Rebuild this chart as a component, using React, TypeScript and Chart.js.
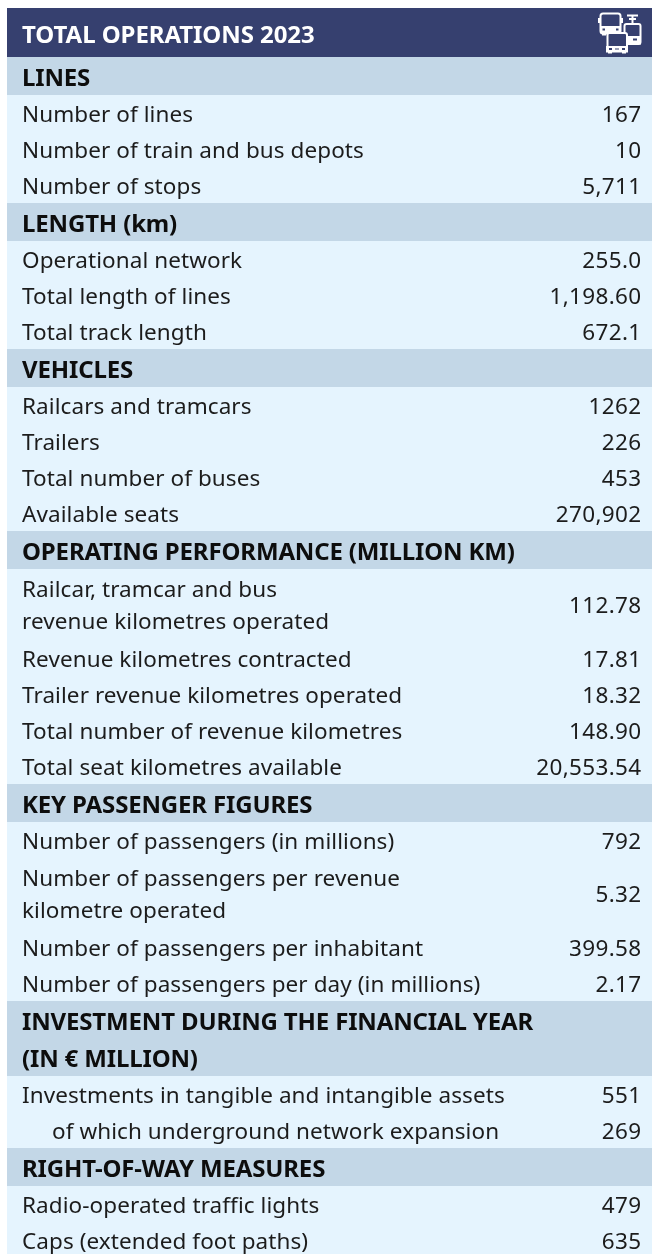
import React, { useEffect, useRef } from "react";
import { Chart, registerables } from "chart.js";

Chart.register(...registerables);

const title = "TOTAL OPERATIONS 2023";

const sectionTitles = [
  "LINES",
  "LENGTH (km)",
  "VEHICLES",
  "OPERATING PERFORMANCE (MILLION KM)",
  "KEY PASSENGER FIGURES",
  "INVESTMENT DURING THE FINANCIAL YEAR\n(IN € MILLION)",
  "RIGHT-OF-WAY MEASURES",
];

const linesLabels = ["Number of lines", "Number of train and bus depots", "Number of stops"];
const linesValues = ["167", "10", "5,711"];
const lengthLabels = ["Operational network", "Total length of lines", "Total track length"];
const lengthValues = ["255.0", "1,198.60", "672.1"];
const vehicleLabels = ["Railcars and tramcars", "Trailers", "Total number of buses", "Available seats"];
const vehicleValues = ["1262", "226", "453", "270,902"];
const performanceLabels = [
  "Railcar, tramcar and bus\nrevenue kilometres operated",
  "Revenue kilometres contracted",
  "Trailer revenue kilometres operated",
  "Total number of revenue kilometres",
  "Total seat kilometres available",
];
const performanceValues = ["112.78", "17.81", "18.32", "148.90", "20,553.54"];
const passengerLabels = [
  "Number of passengers (in millions)",
  "Number of passengers per revenue\nkilometre operated",
  "Number of passengers per inhabitant",
  "Number of passengers per day (in millions)",
];
const passengerValues = ["792", "5.32", "399.58", "2.17"];
const investmentLabels = [
  "Investments in tangible and intangible assets",
  "    of which underground network expansion",
];
const investmentValues = ["551", "269"];
const rightOfWayLabels = ["Radio-operated traffic lights", "Caps (extended foot paths)"];
const rightOfWayValues = ["479", "635"];

const sectionLabels = [linesLabels, lengthLabels, vehicleLabels, performanceLabels, passengerLabels, investmentLabels, rightOfWayLabels];
const sectionValues = [linesValues, lengthValues, vehicleValues, performanceValues, passengerValues, investmentValues, rightOfWayValues];

const W = 652;
const H = 1254;
const LEFT = 7;
const TEXT_X = 22;
const VALUE_X = 641.5;
const TOP = 8;
const HEADER_BOTTOM = 57;
const BAND_H = 38;
const BAND_2_H = 75;
const ROW_H = 36;
const ROW_2_H = 71;
const LINE_H = 32;
const FONT = '"Noto Sans", sans-serif';
const NAVY = "#36406f";

type Item = { kind: "band" | "row"; label: string; value?: string; top: number; bottom: number };

function buildItems(): Item[] {
  const items: Item[] = [];
  let y = HEADER_BOTTOM;
  sectionTitles.forEach((t, s) => {
    const bh = t.includes("\n") ? BAND_2_H : BAND_H;
    items.push({ kind: "band", label: t, top: y, bottom: y + bh });
    y += bh;
    sectionLabels[s].forEach((label, i) => {
      const rh = label.includes("\n") ? ROW_2_H : ROW_H;
      items.push({ kind: "row", label, value: sectionValues[s][i], top: y, bottom: y + rh });
      y += rh;
    });
  });
  return items;
}

function drawIcon(ctx: CanvasRenderingContext2D) {
  ctx.save();
  ctx.strokeStyle = "#ffffff";
  ctx.lineWidth = 2;
  const rr = (x: number, y: number, w: number, h: number, r: number) => {
    ctx.beginPath();
    ctx.roundRect(x, y, w, h, r);
    ctx.fillStyle = NAVY;
    ctx.fill();
    ctx.stroke();
    ctx.fillStyle = "#ffffff";
  };
  // bus (back left)
  rr(600.5, 13.5, 20, 20, 2.5);
  ctx.fillRect(600, 26, 21, 7);
  ctx.fillRect(598, 18, 2, 5);
  ctx.fillRect(621, 18, 2, 5);
  ctx.fillRect(602, 33, 4, 2.5);
  ctx.fillStyle = NAVY;
  ctx.fillRect(602.5, 28.5, 2.5, 2);
  ctx.fillRect(616, 28.5, 2.5, 2);
  // tram (right)
  ctx.beginPath();
  ctx.moveTo(627, 15.5); ctx.lineTo(638, 15.5);
  ctx.moveTo(632.5, 15.5); ctx.lineTo(632.5, 23);
  ctx.moveTo(629, 19); ctx.lineTo(636, 19);
  ctx.stroke();
  rr(624.5, 24, 16, 20, 2);
  ctx.fillRect(624, 36, 17, 8.5);
  ctx.fillStyle = NAVY;
  ctx.fillRect(633, 38.5, 4, 2);
  // bus (front)
  rr(607.5, 33, 19.5, 18, 2);
  ctx.fillRect(606, 46, 22, 6.5);
  ctx.fillRect(608, 52, 4, 1.5);
  ctx.fillRect(622, 52, 4, 1.5);
  ctx.fillStyle = NAVY;
  ctx.fillRect(609, 48, 3, 2);
  ctx.fillRect(622, 48, 3, 2);
  ctx.fillRect(615, 48.5, 4, 1);
  ctx.restore();
}

const tablePlugin = {
  id: "tablePlugin",
  beforeDatasetsDraw(chart: any) {
    const { ctx, scales } = chart;
    const px = (v: number) => scales.x.getPixelForValue(v);
    const py = (v: number) => scales.y.getPixelForValue(v);
    const items = buildItems();
    ctx.save();
    ctx.fillStyle = "#e5f4fe";
    ctx.fillRect(px(LEFT), py(HEADER_BOTTOM), px(W) - px(LEFT), py(H) - py(HEADER_BOTTOM));
    ctx.fillStyle = NAVY;
    ctx.fillRect(px(LEFT), py(TOP), px(W) - px(LEFT), py(HEADER_BOTTOM) - py(TOP));
    ctx.textBaseline = "middle";
    ctx.fillStyle = "#ffffff";
    ctx.font = `700 24px ${FONT}`;
    (ctx as any).letterSpacing = "-0.07px";
    ctx.textAlign = "left";
    ctx.fillText(title, px(TEXT_X), py(36));
    drawIcon(ctx);
    for (const it of items) {
      const lines = it.label.split("\n");
      const mid = (it.top + it.bottom) / 2;
      const isTwo = lines.length > 1;
      const offset = it.kind === "band" ? 3.5 : isTwo ? 2 : 3;
      if (it.kind === "band") {
        ctx.fillStyle = "#c3d7e7";
        ctx.fillRect(px(LEFT), py(it.top), px(W) - px(LEFT), py(it.bottom) - py(it.top));
        ctx.fillStyle = "#0d0d0d";
        ctx.font = `700 24px ${FONT}`;
        (ctx as any).letterSpacing = "-0.15px";
      } else {
        ctx.fillStyle = "#1c1c1c";
        ctx.font = `400 22.5px ${FONT}`;
        (ctx as any).letterSpacing = "0.08px";
      }
      ctx.textAlign = "left";
      lines.forEach((line: string, i: number) => {
        const y = mid + offset + (i - (lines.length - 1) / 2) * (it.kind === "band" ? 37 : LINE_H);
        const indent = line.startsWith("    ") ? 30 : 0;
        ctx.fillText(line.trim(), px(TEXT_X + indent), py(y));
      });
      if (it.value) {
        (ctx as any).letterSpacing = "0.35px";
        ctx.textAlign = "right";
        ctx.fillText(it.value, px(VALUE_X), py(mid + offset));
      }
    }
    ctx.restore();
  },
};

export default function App() {
  const ref = useRef<HTMLCanvasElement>(null);
  useEffect(() => {
    if (!ref.current) return;
    const items = buildItems();
    const chart = new Chart(ref.current, {
      type: "scatter",
      data: {
        datasets: [
          {
            label: title,
            data: items.map((it) => ({ x: TEXT_X, y: (it.top + it.bottom) / 2 })),
            pointRadius: 0,
            showLine: false,
          },
        ],
      },
      options: {
        animation: false,
        responsive: false,
        layout: { padding: 0 },
        plugins: { legend: { display: false }, tooltip: { enabled: false }, title: { display: false } },
        scales: {
          x: { type: "linear", display: false, min: 0, max: W },
          y: { type: "linear", display: false, min: 0, max: H, reverse: true },
        },
      },
      plugins: [tablePlugin],
    } as any);
    return () => chart.destroy();
  }, []);
  return (
    <canvas
      ref={ref}
      width={W}
      height={H}
      style={{ position: "fixed", left: 0, top: 0, width: W, height: H, display: "block" }}
    />
  );
}
